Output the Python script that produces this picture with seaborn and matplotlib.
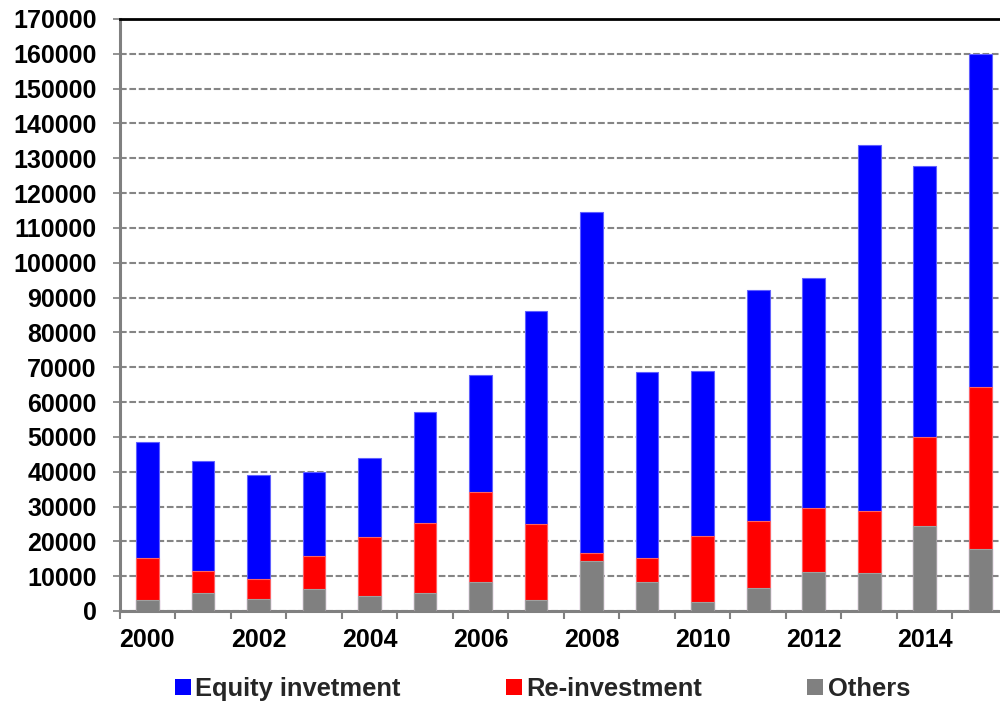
import matplotlib
matplotlib.use("Agg")
import matplotlib.pyplot as plt
from matplotlib.patches import Patch
from matplotlib.ticker import FixedLocator, MultipleLocator
import numpy as np
import pandas as pd
import seaborn as sns

# Annual investment components
years = ["2000", "2001", "2002", "2003", "2004", "2005", "2006", "2007",
         "2008", "2009", "2010", "2011", "2012", "2013", "2014", "2015"]
equity = [33300, 31600, 29900, 24200, 22800, 32000, 33600, 61300,
          97800, 53400, 47400, 66500, 66100, 105100, 77800, 95700]
reinvestment = [12000, 6300, 5700, 9500, 16800, 20100, 25900, 21700,
                2300, 7000, 19000, 19300, 18400, 17900, 25500, 46500]
others = [3200, 5100, 3400, 6300, 4400, 5100, 8300, 3200,
          14400, 8300, 2600, 6500, 11100, 10800, 24400, 17800]
series_names = ["Equity invetment", "Re-investment", "Others"]
series_colors = ["#0000FF", "#FF0000", "#808080"]
edge_colors = ["#6060FF", "#FF6060", "#A0A0A0"]
y_max = 170000
y_step = 10000

df = pd.DataFrame({"year": years, "equity": equity,
                   "reinvestment": reinvestment, "others": others})
# stacked tops, drawn largest first so each layer overlays the previous
df["top_others"] = df["others"]
df["top_reinv"] = df["others"] + df["reinvestment"]
df["top_equity"] = df["top_reinv"] + df["equity"]

sns.set_theme(style="white")
plt.rcParams["font.family"] = ["Liberation Sans", "DejaVu Sans"]
plt.rcParams["font.weight"] = "bold"

fig = plt.figure(figsize=(10, 7.01), dpi=100)
ax = fig.add_axes([0.1196, 0.1284, 0.8884, 0.8445])

for col, color, edge in zip(["top_equity", "top_reinv", "top_others"],
                            series_colors, edge_colors):
    sns.barplot(data=df, x="year", y=col, order=years, color=color,
                saturation=1, width=0.41, edgecolor=edge, linewidth=0.8,
                ax=ax, zorder=3)

ax.set_xlim(-0.5, len(years) - 0.5)
ax.set_ylim(0, y_max)
ax.set_xlabel("")
ax.set_ylabel("")

# y axis
ax.yaxis.set_major_locator(MultipleLocator(y_step))
ax.set_yticklabels([f"{int(v)}" for v in ax.get_yticks()])
ax.tick_params(axis="y", which="major", left=True, length=5, width=1.2,
               color="#808080", pad=11.5, labelsize=18)
ax.yaxis.grid(True, linestyle=(0, (3.2, 1.3)), linewidth=1.5,
              color="#858585", zorder=0)
ax.set_axisbelow(True)

# x axis: labels every other year at centers, tick marks at boundaries
ax.xaxis.set_major_locator(FixedLocator(np.arange(len(years))))
ax.set_xticklabels([y if i % 2 == 0 else "" for i, y in enumerate(years)])
ax.xaxis.set_minor_locator(FixedLocator(np.arange(len(years) + 1) - 0.5))
ax.tick_params(axis="x", which="major", bottom=True, length=0, pad=12.5,
               labelsize=18)
ax.tick_params(axis="x", which="minor", bottom=True, length=6, width=1.5,
               color="#808080")
for lbl in ax.get_xticklabels() + ax.get_yticklabels():
    lbl.set_fontweight("bold")
    lbl.set_color("black")

for side in ["left", "bottom"]:
    ax.spines[side].set_color("#808080")
    ax.spines[side].set_linewidth(2.2)
ax.spines["top"].set_color("black")
ax.spines["top"].set_linewidth(2.0)
ax.spines["right"].set_visible(False)

handles = [Patch(facecolor=c, edgecolor="none") for c in series_colors]
fig.legend(handles, series_names, loc="center", ncol=3,
           bbox_to_anchor=(0.5425, 1 - 689 / 701), frameon=False,
           prop={"family": "Liberation Sans", "weight": "bold", "size": 18.4},
           handlelength=0.63, handleheight=0.63, handletextpad=0.18,
           columnspacing=4.1, borderpad=0, borderaxespad=0)

fig.savefig("out.png", dpi=100)
